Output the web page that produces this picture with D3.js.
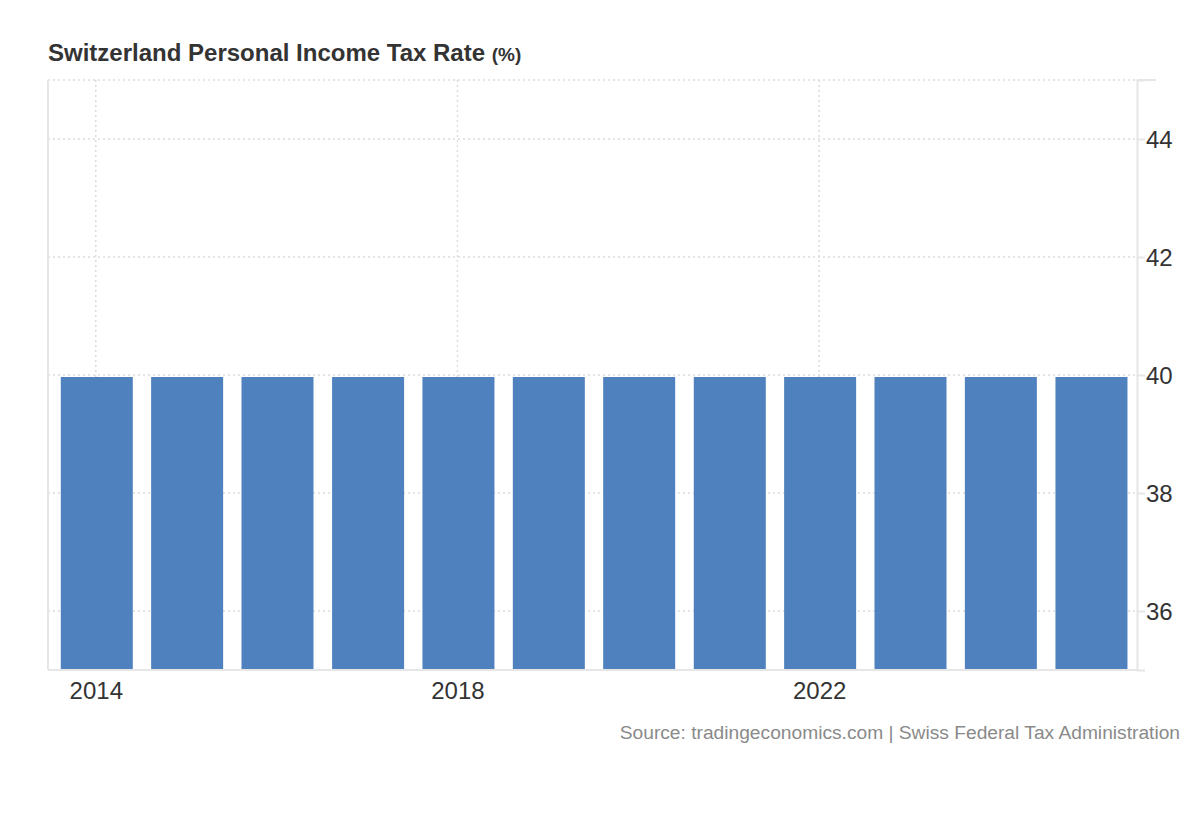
<!DOCTYPE html>
<html lang="en">
<head>
    <meta charset="UTF-8">
    <title>Switzerland Personal Income Tax Rate</title>
    <style>
        body {
            margin: 0;
            background: #fff;
            font-family: "Liberation Sans", Arial, sans-serif;
        }

        .grid line {
            stroke: #dcdcdc;
            stroke-width: 1.5;
            stroke-dasharray: 2, 3;
        }

        .frame {
            stroke: #e6e6e6;
            stroke-width: 2;
        }

        .bar {
            fill: #4e81bd;
        }

        .tick-label {
            fill: #333;
            font-size: 24px;
        }
    </style>
</head>
<body>
<div id="chart"></div>
<script src="https://cdn.jsdelivr.net/npm/d3@7"></script>
<script>
    // data
    let years = [2014, 2015, 2016, 2017, 2018, 2019, 2020, 2021, 2022, 2023, 2024, 2025];
    let rates = [40, 40, 40, 40, 40, 40, 40, 40, 40, 40, 40, 40];
    let yTicks = [36, 38, 40, 42, 44];
    let xTickYears = [2014, 2018, 2022];

    let width = 1200, height = 820;
    let plotLeft = 48, plotRight = 1137, plotTop = 80, plotBottom = 670;

    let svg = d3.select("#chart").append("svg")
        .attr("width", width)
        .attr("height", height);

    let x = d3.scaleTime()
        .domain([new Date(years[0] - 1, 5, 22), new Date(years[years.length - 1], 6, 8)])
        .range([plotLeft, plotRight]);

    let y = d3.scaleLinear()
        .domain([35, 45])
        .range([plotBottom, plotTop]);

    let barWidth = 72;

    // grid
    let grid = svg.append("g").attr("class", "grid");
    grid.selectAll(".h")
        .data(yTicks.concat([45]))
        .enter()
        .append("line")
        .attr("x1", plotLeft)
        .attr("x2", plotRight)
        .attr("y1", d => y(d))
        .attr("y2", d => y(d));
    grid.selectAll(".v")
        .data(xTickYears)
        .enter()
        .append("line")
        .attr("x1", d => x(new Date(d, 0, 1)))
        .attr("x2", d => x(new Date(d, 0, 1)))
        .attr("y1", plotTop)
        .attr("y2", plotBottom);

    // bars
    svg.append("g")
        .selectAll("rect")
        .data(years.map((d, i) => ({year: d, value: rates[i]})))
        .enter()
        .append("rect")
        .attr("class", "bar")
        .attr("x", d => x(new Date(d.year, 0, 1)) + 1 - barWidth / 2)
        .attr("width", barWidth)
        .attr("y", d => y(d.value) + 2)
        .attr("height", d => plotBottom - y(d.value) - 2);

    // frame lines
    svg.append("line").attr("class", "frame")
        .attr("x1", plotLeft).attr("x2", plotLeft).attr("y1", plotTop).attr("y2", plotBottom);
    svg.append("line").attr("class", "frame")
        .attr("x1", plotLeft).attr("x2", plotRight).attr("y1", plotBottom).attr("y2", plotBottom);

    // right axis
    let yAxis = d3.axisRight(y)
        .tickValues(yTicks)
        .tickSize(8)
        .tickPadding(2)
        .tickFormat(d3.format("d"));
    let gy = svg.append("g")
        .attr("transform", "translate(" + plotRight + ",0)")
        .call(yAxis);
    gy.select(".domain").attr("stroke", "#e6e6e6").attr("stroke-width", 2);
    gy.selectAll(".tick line").attr("stroke", "#e6e6e6").attr("stroke-width", 2);
    gy.selectAll(".tick text")
        .attr("class", "tick-label")
        .attr("x", 9)
        .attr("dy", "0.35em")
        .style("font-family", "'Liberation Sans', Arial, sans-serif");
    gy.append("line")
        .attr("x1", 0).attr("x2", 19)
        .attr("y1", plotTop).attr("y2", plotTop)
        .attr("stroke", "#e6e6e6").attr("stroke-width", 2);

    // bottom labels
    let xAxis = d3.axisBottom(x)
        .tickValues(xTickYears.map(d => new Date(d, 0, 1)))
        .tickSize(0)
        .tickPadding(12)
        .tickFormat(d3.timeFormat("%Y"));
    let gx = svg.append("g")
        .attr("transform", "translate(0," + plotBottom + ")")
        .call(xAxis);
    gx.select(".domain").remove();
    gx.selectAll(".tick text")
        .attr("class", "tick-label")
        .style("font-family", "'Liberation Sans', Arial, sans-serif");

    // title
    let title = svg.append("text")
        .attr("x", 48)
        .attr("y", 61)
        .attr("fill", "#333")
        .style("font-weight", "bold")
        .style("font-size", "24px");
    title.append("tspan").text("Switzerland Personal Income Tax Rate ");
    title.append("tspan").style("font-size", "19px").text("(%)");

    // source
    svg.append("text")
        .attr("x", 1180)
        .attr("y", 739)
        .attr("text-anchor", "end")
        .attr("fill", "#8a8a8a")
        .style("font-size", "19.2px")
        .text("Source: tradingeconomics.com | Swiss Federal Tax Administration");
</script>
</body>
</html>
